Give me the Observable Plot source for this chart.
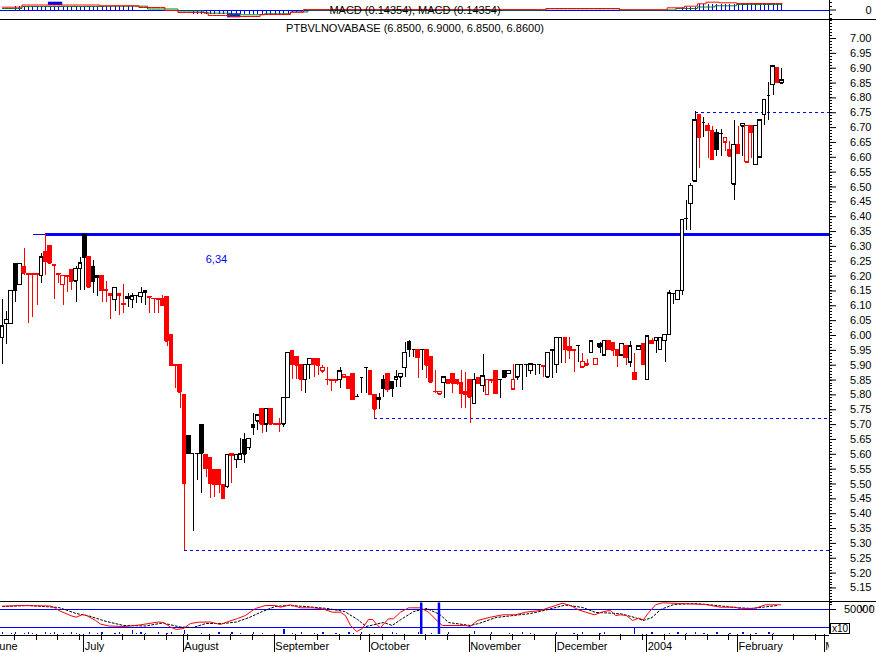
<!DOCTYPE html>
<html>
<head>
<meta charset="utf-8">
<script src="https://cdn.jsdelivr.net/npm/d3@7"></script>
<script src="https://cdn.jsdelivr.net/npm/@observablehq/plot@0.6"></script>
<style>
  html, body { margin:0; padding:0; background:#fff; }
  #chart { position:relative; width:876px; height:652px; overflow:hidden; background:#fff; }
  #chart svg { position:absolute; left:0; }
</style>
</head>
<body>
<div id="chart"></div>
<script>
// ---------------- DATA ----------------
const title = "PTBVLNOVABASE (6.8500, 6.9000, 6.8500, 6.8600)";
const macdTitle = "MACD (0.14354), MACD (0.14354)";

const opens = [5.992,6.039,6.039,6.241,6.171,6.232,6.208,6.207,6.206,6.202,6.281,6.300,6.236,6.207,6.171,6.201,6.221,6.182,6.225,6.337,
6.264,6.232,6.202,6.202,6.154,6.140,6.120,6.140,6.105,6.131,6.120,6.135,6.131,6.151,6.129,6.124,6.123,6.122,6.131,6.003,
5.899,5.899,5.801,5.660,5.602,5.602,5.700,5.599,5.588,5.548,5.548,5.498,5.491,5.600,5.582,5.582,5.649,5.622,5.700,5.711,
5.751,5.702,5.751,5.702,5.701,5.702,5.790,5.949,5.929,5.901,5.851,5.901,5.921,5.921,5.880,5.851,5.850,5.849,5.851,5.860,
5.860,5.871,5.795,5.859,5.891,5.882,5.801,5.791,5.851,5.871,5.842,5.851,5.860,5.891,5.978,5.953,5.950,5.952,5.950,5.929,
5.812,5.802,5.841,5.850,5.871,5.851,5.840,5.810,5.851,5.770,5.857,5.830,5.800,5.850,5.882,5.851,5.882,5.871,5.819,5.860,
5.903,5.903,5.882,5.904,5.904,5.898,5.860,5.952,5.902,5.992,5.992,5.960,5.952,5.966,5.893,5.900,5.942,5.901,5.972,5.933,
5.981,5.975,5.952,5.933,5.963,5.910,5.873,5.952,5.970,5.851,5.980,5.983,5.952,5.983,6.002,6.142,6.120,6.151,6.393,6.443,
6.520,6.741,6.718,6.704,6.690,6.682,6.680,6.651,6.623,6.510,6.642,6.705,6.584,6.704,6.575,6.600,6.743,6.808,6.844,6.901,
6.850];
const highs = [6.121,6.082,6.151,6.241,6.241,6.293,6.208,6.207,6.206,6.275,6.342,6.300,6.236,6.207,6.202,6.201,6.221,6.232,6.264,6.342,
6.264,6.253,6.202,6.202,6.182,6.140,6.160,6.140,6.172,6.143,6.140,6.135,6.163,6.151,6.129,6.124,6.123,6.135,6.131,6.003,
5.899,5.899,5.801,5.660,5.602,5.602,5.700,5.599,5.588,5.548,5.548,5.498,5.599,5.600,5.599,5.652,5.669,5.652,5.736,5.731,
5.751,5.753,5.751,5.702,5.719,5.790,5.942,5.949,5.929,5.901,5.901,5.921,5.921,5.921,5.899,5.891,5.850,5.849,5.891,5.870,
5.860,5.871,5.800,5.860,5.891,5.882,5.801,5.804,5.865,5.871,5.842,5.882,5.871,5.978,5.983,5.953,5.950,5.952,5.950,5.929,
5.882,5.812,5.860,5.850,5.871,5.851,5.882,5.876,5.851,5.873,5.857,5.936,5.851,5.850,5.882,5.851,5.882,5.882,5.903,5.902,
5.903,5.903,5.904,5.904,5.904,5.898,5.942,5.952,5.992,5.992,5.992,5.992,5.952,5.966,5.938,5.920,5.981,5.921,5.978,5.983,
5.981,5.975,5.952,5.972,5.963,5.981,5.938,5.963,5.970,5.997,5.990,5.992,5.992,6.002,6.151,6.142,6.151,6.389,6.455,6.513,
6.754,6.741,6.735,6.713,6.704,6.693,6.693,6.666,6.654,6.724,6.704,6.713,6.706,6.704,6.706,6.724,6.793,6.851,6.906,6.901,
6.900];
const lows = [5.902,5.970,6.039,6.112,6.171,6.202,6.042,6.062,6.101,6.174,6.202,6.244,6.121,6.174,6.101,6.146,6.151,6.112,6.151,6.151,
6.163,6.143,6.131,6.112,6.112,6.054,6.082,6.067,6.073,6.093,6.090,6.107,6.109,6.101,6.073,6.073,6.073,6.101,5.964,5.899,
5.820,5.753,5.276,5.602,5.341,5.512,5.469,5.523,5.450,5.453,5.467,5.450,5.484,5.500,5.551,5.582,5.568,5.613,5.663,5.680,
5.669,5.672,5.702,5.702,5.672,5.691,5.790,5.852,5.852,5.813,5.804,5.852,5.860,5.865,5.871,5.832,5.813,5.837,5.820,5.855,
5.820,5.783,5.795,5.804,5.804,5.801,5.719,5.751,5.792,5.809,5.792,5.824,5.824,5.860,5.925,5.925,5.854,5.882,5.854,5.843,
5.804,5.800,5.787,5.835,5.804,5.830,5.753,5.753,5.703,5.770,5.840,5.809,5.800,5.840,5.804,5.787,5.860,5.871,5.819,5.850,
5.815,5.860,5.870,5.865,5.870,5.860,5.860,5.854,5.871,5.905,5.905,5.918,5.877,5.910,5.893,5.895,5.942,5.901,5.938,5.933,
5.952,5.930,5.893,5.930,5.900,5.893,5.851,5.952,5.901,5.851,5.972,5.940,5.952,5.910,6.002,6.106,6.120,6.135,6.354,6.354,
6.520,6.563,6.666,6.595,6.594,6.603,6.603,6.620,6.603,6.455,6.614,6.603,6.584,6.595,6.575,6.600,6.707,6.724,6.808,6.853,
6.850];
const closes = [6.031,6.053,6.151,6.151,6.241,6.210,6.207,6.206,6.205,6.264,6.248,6.244,6.235,6.206,6.202,6.200,6.182,6.225,6.244,6.264,
6.163,6.182,6.195,6.151,6.150,6.133,6.160,6.133,6.104,6.123,6.132,6.135,6.144,6.146,6.128,6.123,6.122,6.101,5.981,5.899,
5.898,5.809,5.501,5.602,5.602,5.602,5.603,5.551,5.500,5.498,5.497,5.450,5.599,5.595,5.599,5.600,5.600,5.652,5.689,5.731,
5.702,5.753,5.702,5.701,5.700,5.790,5.942,5.901,5.900,5.852,5.901,5.921,5.901,5.900,5.891,5.851,5.849,5.848,5.880,5.868,
5.820,5.783,5.795,5.859,5.891,5.801,5.751,5.783,5.820,5.818,5.821,5.860,5.871,5.942,5.953,5.953,5.925,5.952,5.899,5.843,
5.812,5.810,5.860,5.840,5.839,5.838,5.804,5.800,5.792,5.851,5.840,5.862,5.851,5.849,5.804,5.851,5.860,5.882,5.851,5.902,
5.903,5.903,5.904,5.904,5.904,5.895,5.942,5.950,5.992,5.992,5.952,5.950,5.949,5.966,5.912,5.905,5.981,5.921,5.961,5.983,
5.952,5.951,5.933,5.972,5.925,5.963,5.851,5.963,5.901,5.997,5.972,5.992,5.992,6.002,6.142,6.142,6.151,6.389,6.393,6.505,
6.724,6.666,6.718,6.690,6.594,6.625,6.680,6.666,6.603,6.642,6.614,6.713,6.706,6.685,6.706,6.724,6.793,6.808,6.906,6.853,
6.860];

const monthLabels = ["June","July","August","September","October","November","December","2004","February","March"];
const monthStarts = [-2,19,42,63,85,108,128,149,170,190];

const priceTicks = [5.15,5.20,5.25,5.30,5.35,5.40,5.45,5.50,5.55,5.60,5.65,5.70,5.75,5.80,5.85,5.90,5.95,6.00,
6.05,6.10,6.15,6.20,6.25,6.30,6.35,6.40,6.45,6.50,6.55,6.60,6.65,6.70,6.75,6.80,6.85,6.90,6.95,7.00];

// horizontal support lines (value, first candle)
const levelValues = [5.276, 5.719, 6.751];
const levelStarts = [42, 86, 160];
const resistanceValue = 6.34;
const resistanceStart = 10;
const resistanceLead = 7.2;
const resistanceLabel = "6,34";

// MACD panel: step readings [firstIndex, lastIndex, value]
const macdSteps = [[0,4,0.056],[5,22,0.10],[23,31,0.084],[32,37,0.05],[38,40,-0.01],[41,47,-0.05],[48,52,-0.11],
[53,59,-0.13],[60,66,-0.09],[67,69,-0.044],[70,125,0.008],[126,142,0.03],[143,153,0.004],[154,157,0.044],
[158,160,0.076],[161,162,0.124],[163,165,0.156],[166,169,0.144],[170,180,0.13]];
const signalSteps = [[0,4,0.03],[5,23,0.07],[24,33,0.076],[34,40,0.02],[41,46,-0.02],[47,52,-0.064],[53,60,-0.096],
[61,66,-0.076],[67,70,-0.04],[71,125,-0.004],[126,142,0.024],[143,155,0],[156,160,0.03],[161,164,0.06],
[165,169,0.084],[170,180,0.11]];
const histSteps = [[3,30,0.08],[38,43,-0.03],[44,66,-0.09],[67,69,-0.04],[157,160,0.05],[161,180,0.12]];
const macdBlobStart = [10.6, 52];
const macdBlobEnd = [13.9, 55];
const macdBlobLow = [0.09, -0.156];
const macdBlobHigh = [0.156, -0.076];

// lower oscillator
const oscIdx = [0,4,11,12,13,16,17,18.5,19.4,21.5,22.6,24.5,28.4,31.9,36,37.2,38.8,40.2,41.8,43.4,45.3,48,50.3,52.2,54.3,56.1,58.4,60.7,63,64.2,
66.5,68.8,71.6,73.9,76.2,78,79.2,80.4,81.8,83.1,84.5,85.5,86.6,87.3,89.1,90.3,91.9,93.8,96.5,98.4,100.7,101.6,106.9,108,109.7,112.7,115.5,118.5,120.8,124.2,
127.7,129.3,131.2,133,134.7,136.7,138.8,140.4,141.6,142.7,144.1,145.5,146.9,148,149.2,150.8,152.4,156.6,162.4,165.8,169.3,170.4,173.9,176.2,179.7];
const oscVal = [53300,54000,53500,52000,49000,43500,42300,45000,44000,39000,35500,33500,33000,34700,37500,37000,32300,30000,31000,36000,
37300,37500,35000,38000,41000,44000,51000,54000,54000,52300,54700,51700,51700,50700,47300,47300,44000,34000,28000,31000,
40000,40000,34000,31700,40700,40700,47300,51700,51700,47300,37300,34000,34000,33000,39000,42300,44700,44700,47300,49000,
54000,56300,54000,49700,47300,44700,48000,49000,44000,44700,44000,39000,41300,39700,46700,54700,56700,56000,55000,52300,
52300,50700,51300,54700,54700];
const sigIdx = [0,6,13,17,20,24,28,33,37,41,44,47,51,54,57,60,63,66,70,75,79,82,84,86,88,90,92,95,98,101,103,108,110,114,118,122,126,130,134,137,140,143,146,148,150,152,155,160,165,169,173,176,179];
const sigVal = [53000,54000,52000,46000,43500,38000,34000,33500,36500,32500,32000,36000,36000,37500,42000,48000,53000,54000,53000,51000,48000,40000,33000,35000,37000,34000,40000,48000,51000,45000,37000,34000,36000,42000,44000,46000,50000,54500,52000,47000,46500,45500,42000,39000,42000,50000,55000,56000,54000,52000,51000,52500,54000];
const oscLevels = [50000, 32000];
const oscTicks = [50000];
const oscMarkers = [96.7, 100.8];

// volume (visible bars only)
const volIdx = [0,2,3,5,6,7,10,11,12,14,16,17,20,22,23,26,27,30,31,32,33,36,38,39,42,46,50,53,55,58,60,65,67,69,72,74,77,80,81,83,86,90,91,96,99,103,109,113,117,120,122,128,132,134,138,139,146,150,154,156,158,160,162,165,168,171,174,177,178];
const volVal = [2,1,2,1,2,1,2,1,2,1,2,1,2,1,2,1,2,4,1,2,1,2,1,2,4,1,2,2,1,2,1,5,1,2,1,2,1,2,1,2,1,2,1,2,1,2,3,2,1,2,1,2,1,2,1,2,6,2,1,2,1,2,1,2,1,2,1,2,1];

// ---------------- LAYOUT ----------------
const W = 876, MR = 47;
const X_MIN = -0.462, X_MAX = 190.99;        // plot area 0..829 px
const PX = 829 / (X_MAX - X_MIN);
const at = px => X_MIN + px / PX;             // index located at a given pixel column
const RED = "#ff0000", BLACK = "#000000", BLUE = "#0000ff", GREEN = "#008000";
const FONT = "font-family:'Liberation Sans',Arial,sans-serif;font-size:11px;";
const chart = document.getElementById("chart");
const CRISP = {shapeRendering: "crispEdges"};

function panel(top, height, y, marks) {
  const svg = Plot.plot({
    width: W, height, marginLeft: 0, marginRight: MR, marginTop: 0, marginBottom: 0,
    x: {domain: [X_MIN, X_MAX], axis: null},
    y: Object.assign({axis: null}, y),
    color: {type: "identity"},
    style: "background:transparent;overflow:visible;" + FONT,
    marks
  });
  svg.style.top = top + "px";
  chart.appendChild(svg);
  return svg;
}
const expand = steps => steps.flatMap(([a, b, v]) => d3.range(a, b + 1).map(i => ({i, v})));
const minorTicks = (values, len) => Plot.ruleY(values, {x1: X_MAX, x2: X_MAX + len / PX, stroke: BLACK, ...CRISP});

// ---------------- MACD PANEL ----------------
const macd = expand(macdSteps), signal = expand(signalSteps), hist = expand(histSteps);
const blobs = macdBlobStart.map((s, k) => ({s, e: macdBlobEnd[k], lo: macdBlobLow[k], hi: macdBlobHigh[k]}));
panel(0, 19, {domain: [-0.19, 0.19], range: [19, 0]}, [
  Plot.ruleY([0], {x1: X_MIN, x2: X_MAX, stroke: BLUE, ...CRISP}),
  Plot.ruleX(hist, {x: "i", y1: 0, y2: "v", stroke: BLUE, ...CRISP}),
  Plot.rect(blobs, {x1: "s", x2: "e", y1: "lo", y2: "hi", fill: BLUE}),
  Plot.line(signal, {x: "i", y: "v", stroke: GREEN, curve: "step", strokeWidth: 1}),
  Plot.line(macd, {x: "i", y: "v", stroke: RED, curve: "step", strokeWidth: 1}),
  Plot.text([macdTitle], {frameAnchor: "top", dy: 10, lineAnchor: "middle", text: d => d, fill: BLACK}),
  Plot.ruleX([X_MAX], {y1: -0.19, y2: 0.19, stroke: BLACK, ...CRISP}),
  minorTicks([0.16, 0.08, -0.08, -0.16], 3),
  Plot.axisY([0], {anchor: "right", tickSize: 6, tickPadding: 36, textAnchor: "end", tickFormat: d => "0"}),
  Plot.ruleY([-0.18], {x1: X_MIN, x2: at(W), stroke: BLACK, ...CRISP})
]);

// ---------------- MAIN PRICE PANEL ----------------
const candles = opens.map((o, i) => ({
  i, open: o, high: highs[i], low: lows[i], close: closes[i], prev: i > 0 ? closes[i - 1] : o
}));
const tone = d => d.close < d.prev ? RED : BLACK;
const bodyFill = d => d.close > d.open ? "#ffffff" : tone(d);
const HALF = 0.42;
const levels = levelValues.map((v, k) => ({v, s: levelStarts[k]}));
const minorPrice = d3.range(511, 707).map(k => k / 100);

panel(19, 581, {domain: [5.10774, 7.06397], range: [581, 0]}, [
  Plot.ruleY(levels, {y: "v", x1: "s", x2: X_MAX, stroke: BLUE, strokeDasharray: "3,3", ...CRISP}),
  Plot.ruleY([resistanceValue], {x1: resistanceLead, x2: resistanceStart, stroke: BLUE, strokeWidth: 1, ...CRISP}),
  Plot.ruleY([resistanceValue], {x1: resistanceStart, x2: X_MAX, stroke: BLUE, strokeWidth: 3, ...CRISP}),
  Plot.ruleX(candles, {x: "i", y1: "low", y2: "high", stroke: tone, ...CRISP}),
  Plot.rect(candles, {x1: d => d.i - HALF, x2: d => d.i + HALF, y1: "open", y2: "close",
    fill: bodyFill, stroke: tone, strokeWidth: 1, ...CRISP}),
  Plot.ruleY(candles, {y: "close", x1: d => d.i - HALF, x2: d => d.i + HALF, stroke: tone, ...CRISP}),
  Plot.ruleY(candles, {y: "open", x1: d => d.i - HALF, x2: d => d.i + HALF, stroke: tone, ...CRISP}),
  Plot.text([resistanceLabel], {x: 49.4, y: 6.256, text: d => d, fill: BLUE}),
  Plot.text([title], {frameAnchor: "top", dy: 9, lineAnchor: "middle", text: d => d, fill: BLACK}),
  Plot.ruleX([X_MAX], {stroke: BLACK, ...CRISP}),
  minorTicks(minorPrice, 3),
  Plot.axisY(priceTicks, {anchor: "right", tickSize: 6, tickPadding: 36, textAnchor: "end", tickFormat: d => d.toFixed(2)})
]);

// ---------------- OSCILLATOR PANEL ----------------
const osc = oscIdx.map((i, k) => ({i, v: oscVal[k]}));
const sig = sigIdx.map((i, k) => ({i, v: sigVal[k]}));
panel(600, 34, {domain: [25000, 59000], range: [34, 0]}, [
  Plot.ruleY([58500], {x1: X_MIN, x2: at(W), stroke: BLACK, ...CRISP}),
  Plot.ruleY(oscLevels, {x1: X_MIN, x2: X_MAX, stroke: BLUE, strokeWidth: 1.3, ...CRISP}),
  Plot.line(sig, {x: "i", y: "v", stroke: BLACK, strokeDasharray: "2,2", strokeWidth: 1}),
  Plot.line(osc, {x: "i", y: "v", stroke: RED, strokeWidth: 1}),
  Plot.ruleX(oscMarkers, {y1: 56500, y2: 25000, stroke: BLUE, strokeWidth: 2.5}),
  Plot.ruleX([X_MAX], {stroke: BLACK, ...CRISP}),
  minorTicks([57500, 55500], 3),
  Plot.axisY(oscTicks, {anchor: "right", tickSize: 6, tickPadding: 39, textAnchor: "end", tickFormat: d3.format("d")}),
  Plot.rect([0], {x1: at(830), x2: at(849), y1: 26000, y2: 36000, fill: "none", stroke: BLACK, ...CRISP}),
  Plot.text(["x10"], {x: at(839.5), y: 31000, text: d => d, fill: BLACK, fontSize: 10})
]);

// ---------------- VOLUME STRIP ----------------
const vol = volIdx.map((i, k) => ({i, v: volVal[k]}));
panel(626, 8, {domain: [0, 8], range: [8, 0]}, [
  Plot.ruleX(vol, {x: "i", y1: 0, y2: "v", stroke: BLUE, strokeWidth: 1.2, ...CRISP})
]);

// ---------------- TIME AXIS ----------------
const months = monthStarts.map((i, k) => ({i, label: monthLabels[k]}));
const weeks = d3.range(3, 190, 5);
panel(634, 18, {domain: [0, 18], range: [0, 18]}, [
  Plot.ruleY([0.5], {x1: X_MIN, x2: X_MAX, stroke: BLACK, ...CRISP}),
  Plot.ruleX(weeks, {y1: 0, y2: 6, stroke: BLACK, dx: -1, ...CRISP}),
  Plot.ruleX(months, {x: "i", y1: 0, y2: 18, stroke: BLACK, dx: -1, ...CRISP}),
  Plot.text(months, {x: "i", y: 12, text: "label", textAnchor: "start", dx: 0, fill: BLACK, clip: true})
]);
</script>
</body>
</html>
